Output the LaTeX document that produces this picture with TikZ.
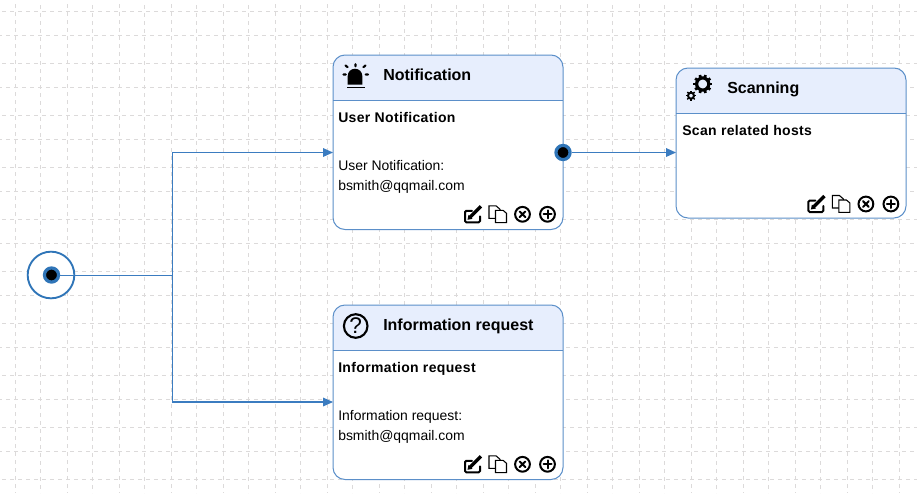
\documentclass[tikz,border=0pt]{standalone}
\usepackage{fontspec}
\setmainfont{Liberation Sans}
\usetikzlibrary{arrows.meta}
\definecolor{wire}{HTML}{3B7CC0}
\definecolor{ringblue}{HTML}{2F75B8}
\definecolor{edgeblue}{HTML}{5B8FC9}
\definecolor{headfill}{HTML}{E7EEFD}
\definecolor{gridgrey}{HTML}{DCDADA}
\tikzset{
  x=0.75pt,y=-0.75pt,
  gridh/.style={draw=gridgrey,line width=0.75pt,dash pattern=on 3pt off 3pt},
  cardedge/.style={draw=edgeblue,line width=0.75pt,rounded corners=9pt},
  headline/.style={draw=edgeblue,line width=0.75pt},
  titletext/.style={anchor=base west,inner sep=0pt,font=\bfseries\fontsize{12}{14}\selectfont},
  boldtext/.style={anchor=base west,inner sep=0pt,font=\bfseries\fontsize{10.5}{12}\selectfont\addfontfeature{LetterSpace=2.5}},
  bodytext/.style={anchor=base west,inner sep=0pt,font=\fontsize{10.45}{12}\selectfont},
  wirethin/.style={draw=wire,line width=0.6pt},
  wirearrow/.style={draw=wire,line width=0.85pt,-{Triangle[length=7.5pt,width=6.5pt]}},
  portdot/.style={circle,fill=black,draw=ringblue,line width=2.4pt,minimum size=10.6pt,inner sep=0pt},
  startring/.style={circle,draw=ringblue,fill=white,line width=1.4pt,minimum size=35pt,inner sep=0pt},
  iconline/.style={draw=black,line width=1.5pt},
  pics/toolbar/.style={code={
    % edit
    \draw[iconline,line cap=round,rounded corners=1pt] (-1,-3.5) -- (-8,-3.5) -- (-8,8) -- (7,8) -- (7,2);
    \draw[black,line width=2.5pt] (-3,3) -- (8,-8);
    \fill[black] (-5.5,5.5) -- (-4.5,0.5) -- (-0.5,4.5) -- cycle;
    % copy
    \draw[draw=black,line width=0.8pt,fill=white] (16,-8.5) -- (23,-8.5) -- (27,-5) -- (27,4) -- (16,4) -- cycle;
    \draw[draw=black,line width=0.8pt,fill=white] (22.5,-4) -- (30,-4) -- (33.5,-1) -- (33.5,8.3) -- (22.5,8.3) -- cycle;
    % cancel
    \draw[iconline] (49.5,0) circle[radius=7.4];
    \draw[iconline,line cap=round] (46.7,-2.8) -- (52.3,2.8) (46.7,2.8) -- (52.3,-2.8);
    % add
    \draw[iconline] (74.5,0) circle[radius=7.4];
    \draw[iconline,line cap=round] (70.5,0) -- (78.5,0) (74.5,-4) -- (74.5,4);
  }},
  pics/biggear/.style={code={
    \draw[black,line width=2.4pt] (0,0) circle[radius=6.1];
    \foreach \a in {0,36,...,324}{
      \draw[black,line width=2pt] (\a:6.2) -- (\a:9.4);
    }
  }},
  pics/smallgear/.style={code={
    \draw[black,line width=1.5pt] (0,0) circle[radius=3];
    \foreach \a in {0,45,...,315}{
      \draw[black,line width=1.1pt] (\a:3) -- (\a:5.2);
    }
  }},
}
\begin{document}
\begin{tikzpicture}
\useasboundingbox (0,0) rectangle (917,493);
\fill[white] (0,0) rectangle (917,493);
% background grid
\foreach \k in {0,...,8}{
  \draw[gridh] (2,{11+52*\k}) -- (917,{11+52*\k});
  \draw[gridh,dash phase=1.5pt] (0,{35+52*\k}) -- (917,{35+52*\k});
}
\draw[gridh] (2,479) -- (917,479);
\foreach \k in {0,...,17}{
  \draw[gridh] ({15+52*\k},4) -- ({15+52*\k},493);
  \draw[gridh,dash phase=3pt] ({40.5+52*\k},1) -- ({40.5+52*\k},493);
}
% start event
\node[startring] (start) at (51,275) {};
\node[portdot] (startdot) at (51.5,275) {};
% cards
\fill[white,rounded corners=9pt] (333,55) rectangle (563,229.5);
\fill[white,rounded corners=9pt] (676,68) rectangle (906,218);
\fill[white,rounded corners=9pt] (333,305) rectangle (563,479.5);
\begin{scope}
  \clip[rounded corners=9pt] (333,55) rectangle (563,229.5);
  \fill[headfill] (333,55) rectangle (563,100);
\end{scope}
\begin{scope}
  \clip[rounded corners=9pt] (676,68) rectangle (906,218);
  \fill[headfill] (676,68) rectangle (906,113);
\end{scope}
\begin{scope}
  \clip[rounded corners=9pt] (333,305) rectangle (563,479.5);
  \fill[headfill] (333,305) rectangle (563,350);
\end{scope}
\draw[cardedge] (333,55) rectangle (563,229.5);
\draw[cardedge] (676,68) rectangle (906,218);
\draw[cardedge] (333,305) rectangle (563,479.5);
\draw[headline] (333,100) -- (563,100);
\draw[headline] (676,113) -- (906,113);
\draw[headline] (333,350) -- (563,350);
% titles and text
\node[titletext] (t1) at (383,80) {Notification};
\node[boldtext] (b1) at (338,122) {User Notification};
\node[bodytext] (l1) at (338,170) {User Notification:};
\node[bodytext] (m1) at (338,190) {bsmith@qqmail.com};
\node[titletext] (t2) at (727,93) {Scanning};
\node[boldtext] (b2) at (682,135) {Scan related hosts};
\node[titletext] (t3) at (383,330) {Information request};
\node[boldtext] (b3) at (338,372) {Information request};
\node[bodytext] (l3) at (338,420) {Information request:};
\node[bodytext] (m3) at (338,440) {bsmith@qqmail.com};
% siren icon
\fill[black] (347.7,84.5) -- (347.7,76) arc[start angle=180,end angle=360,radius=7.3] -- (362.3,84.5) -- cycle;
\fill[black] (346.7,86.6) rectangle (365,88.2);
\draw[black,line width=1.6pt,line cap=round]
  (355.5,64.2) -- (355.5,66.2)
  (345.5,65.5) -- (347.6,67.2)
  (365.5,65.5) -- (363.4,67.2)
  (343.5,74.5) -- (345.8,74.5)
  (365.7,74.5) -- (368,74.5);
% gears icon
\pic at (702.7,84) {biggear};
\pic at (691,95.7) {smallgear};
% question icon
\draw[black,line width=1.6pt] (355.7,326) circle[radius=11.8];
\node[anchor=center,inner sep=0pt,font=\fontsize{17}{18}\selectfont] (q) at (355.7,326) {?};
% toolbars
\pic at (473,214.3) {toolbar};
\pic at (816.4,204) {toolbar};
\pic at (473,464.3) {toolbar};
% ports and connectors
\coordinate (junction) at (172.5,275);
\coordinate (notifin) at (333,152.5);
\coordinate (infoin) at (333,402);
\coordinate (scanin) at (676,152.5);
\node[portdot] (outport) at (563,152.5) {};
\draw[wirethin] (startdot) -- (junction);
\draw[wirearrow] (junction) |- (notifin);
\draw[wirearrow] (junction) |- (infoin);
\draw[wirearrow] (outport) -- (scanin);
\end{tikzpicture}
\end{document}
